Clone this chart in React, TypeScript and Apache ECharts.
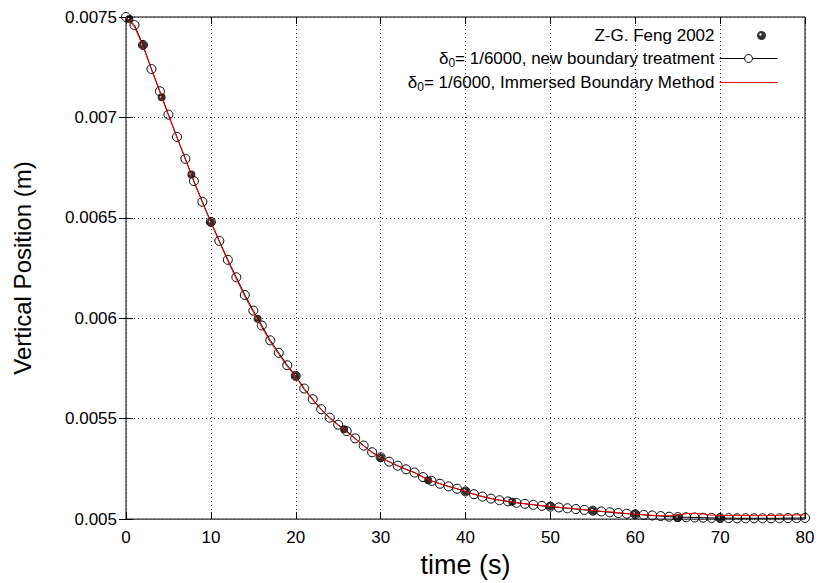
import React, { useEffect, useRef } from "react";
import * as echarts from "echarts";

const timeSteps: number[] = Array.from({ length: 81 }, (_, i) => i);

const newBoundary: number[] = [
  0.0075, 0.00746, 0.007361, 0.007241, 0.00713, 0.007014, 0.006903, 0.006794, 0.006683, 0.00658,
  0.00648, 0.006385, 0.006291, 0.006204, 0.006116, 0.006038, 0.005964, 0.00589, 0.005828, 0.005766,
  0.005713, 0.00565, 0.005597, 0.005547, 0.005505, 0.00547, 0.005438, 0.005402, 0.005366, 0.005333,
  0.005308, 0.005286, 0.005266, 0.005248, 0.005232, 0.005209, 0.00519, 0.005176, 0.005163, 0.005151,
  0.005138, 0.005124, 0.005112, 0.005102, 0.005094, 0.005088, 0.005081, 0.005076, 0.005071, 0.005066,
  0.005062, 0.005058, 0.005054, 0.00505, 0.005046, 0.005042, 0.005038, 0.005034, 0.00503, 0.005027,
  0.005024, 0.005021, 0.005018, 0.005015, 0.005012, 0.00501, 0.005009, 0.005008, 0.005007, 0.005006,
  0.005005, 0.005005, 0.005004, 0.005004, 0.005004, 0.005004, 0.005004, 0.005004, 0.005005, 0.005005,
  0.005006,
];

const immersedBoundary: number[] = [
  0.0075, 0.00745, 0.007355, 0.007238, 0.007125, 0.00701, 0.0069, 0.00679, 0.00668, 0.006576,
  0.006476, 0.00638, 0.006285, 0.006196, 0.006108, 0.00603, 0.005955, 0.005882, 0.00582, 0.00576,
  0.005708, 0.005645, 0.005593, 0.005544, 0.005502, 0.005467, 0.005435, 0.0054, 0.005364, 0.005331,
  0.005306, 0.005285, 0.005265, 0.005247, 0.005231, 0.005209, 0.00519, 0.005176, 0.005163, 0.005151,
  0.005137, 0.005124, 0.005112, 0.005103, 0.005095, 0.005089, 0.005082, 0.005077, 0.005072, 0.005067,
  0.005063, 0.005059, 0.005055, 0.005051, 0.005047, 0.005043, 0.005039, 0.005036, 0.005032, 0.005028,
  0.005025, 0.005022, 0.005019, 0.005017, 0.005017, 0.005021, 0.005027, 0.005029, 0.005025, 0.00502,
  0.005018, 0.005018, 0.005019, 0.005018, 0.005017, 0.005017, 0.005018, 0.005019, 0.00502, 0.005021,
  0.005021,
];

const fengTimes: number[] = [0.4, 2, 4.2, 7.7, 10, 15.5, 20, 25.7, 30, 35.6, 40, 45.5, 50, 55, 60, 65, 70];
const fengValues: number[] = [
  0.00749, 0.00736, 0.0071, 0.006716, 0.006478, 0.005997, 0.005713, 0.005447, 0.005306, 0.005194,
  0.005139, 0.005087, 0.005064, 0.005041, 0.005025, 0.005006, 0.005004,
];

const xTicks = { min: 0, max: 80, interval: 10 };
const yTicks = { min: 0.005, max: 0.0075, interval: 0.0005 };

const FONT = "'Liberation Sans', Arial, Helvetica, sans-serif";
const FENG_SYMBOL =
  "path://M5,0A5,5 0 1 1 5,10A5,5 0 1 1 5,0ZM3.9,2.6A1.4,1.4 0 1 0 3.9,5.4A1.4,1.4 0 1 0 3.9,2.6Z";
// legend icon: same marker, shifted to the right inside a 58x10 box
const FENG_LEGEND_ICON =
  "path://M0,0L0.01,0L0.01,0.01ZM58,10L57.99,10L57.99,9.99ZM42,0.5A4.5,4.5 0 1 1 42,9.5A4.5,4.5 0 1 1 42,0.5ZM41,2.7A1.2,1.2 0 1 0 41,5.1A1.2,1.2 0 1 0 41,2.7Z";

export default function App() {
  const ref = useRef<HTMLDivElement>(null);

  useEffect(() => {
    if (!ref.current) return;
    const chart = echarts.init(ref.current, null, { renderer: "svg" });

    const tickStyle = { inside: true, length: 7, lineStyle: { color: "#000", width: 1 } };
    const gridLine = { show: true, lineStyle: { color: "#333", width: 1, type: [1, 3] as any } };

    chart.setOption({
      animation: false,
      backgroundColor: "#fff",
      textStyle: { fontFamily: FONT },
      grid: {
        left: 126,
        right: 13,
        top: 17,
        bottom: 62,
        show: true,
        borderColor: "#000",
        borderWidth: 1,
        backgroundColor: "transparent",
      },
      legend: {
        orient: "vertical",
        right: 35,
        top: 21,
        align: "right",
        itemWidth: 58,
        itemHeight: 10,
        itemGap: 4,
        selectedMode: false,
        textStyle: {
          fontFamily: FONT,
          fontSize: 17,
          color: "#000",
          lineHeight: 19,
          rich: {
            d: { fontFamily: FONT, fontSize: 17, color: "#000" },
            s: { fontFamily: FONT, fontSize: 12, color: "#000", padding: [9, 0, 0, 0] },
            t: { fontFamily: FONT, fontSize: 17, color: "#000" },
          },
        },
        data: [
          { name: "Z-G. Feng 2002", icon: FENG_LEGEND_ICON, itemStyle: { color: "#000" } },
          {
            name: "nbt",
            lineStyle: { width: 1 },
            itemStyle: { color: "#fff", borderColor: "#000", borderWidth: 1 },
          },
          { name: "ibm", lineStyle: { width: 1 }, itemStyle: { opacity: 0 } },
        ],
        formatter: (name: string) => {
          if (name === "nbt") return "{d|δ}{s|0}{t|= 1/6000, new boundary treatment}";
          if (name === "ibm") return "{d|δ}{s|0}{t|= 1/6000, Immersed Boundary Method}";
          return name;
        },
      },
      xAxis: [
        {
          type: "value",
          ...xTicks,
          position: "bottom",
          name: "time (s)",
          nameLocation: "middle",
          nameGap: 27,
          nameTextStyle: { fontFamily: FONT, fontSize: 27, color: "#000" },
          axisLine: { show: false },
          axisTick: tickStyle,
          axisLabel: { fontFamily: FONT, fontSize: 17, color: "#000", margin: 10 },
          splitLine: gridLine,
        },
        {
          type: "value",
          ...xTicks,
          position: "top",
          axisLine: { show: false },
          axisTick: tickStyle,
          axisLabel: { show: false },
          splitLine: { show: false },
        },
      ],
      yAxis: [
        {
          type: "value",
          ...yTicks,
          position: "left",
          name: "Vertical Position (m)",
          nameLocation: "middle",
          nameGap: 92,
          nameTextStyle: { fontFamily: FONT, fontSize: 24, color: "#000" },
          axisLine: { show: false },
          axisTick: tickStyle,
          axisLabel: {
            fontFamily: FONT,
            fontSize: 17,
            color: "#000",
            margin: 9,
            formatter: (v: number) => String(parseFloat(v.toPrecision(6))),
          },
          splitLine: gridLine,
        },
        {
          type: "value",
          ...yTicks,
          position: "right",
          axisLine: { show: false },
          axisTick: tickStyle,
          axisLabel: { show: false },
          splitLine: { show: false },
        },
      ],
      series: [
        {
          name: "Z-G. Feng 2002",
          type: "scatter",
          symbol: FENG_SYMBOL,
          symbolSize: 8,
          itemStyle: { color: "#000" },
          data: fengTimes.map((t, i) => [t, fengValues[i]]),
          z: 3,
        },
        {
          name: "nbt",
          type: "line",
          showSymbol: true,
          symbol: "circle",
          symbolSize: 9,
          lineStyle: { color: "#000", width: 1 },
          itemStyle: { color: "rgba(255,255,255,0)", borderColor: "#000", borderWidth: 1 },
          data: timeSteps.map((t, i) => [t, newBoundary[i]]),
          z: 2,
        },
        {
          name: "ibm",
          type: "line",
          showSymbol: false,
          symbol: "none",
          lineStyle: { color: "#ff0000", width: 1 },
          itemStyle: { color: "#ff0000" },
          data: timeSteps.map((t, i) => [t, immersedBoundary[i]]),
          z: 4,
        },
      ],
    });

    return () => chart.dispose();
  }, []);

  return (
    <div
      ref={ref}
      style={{ position: "fixed", left: 0, top: 0, width: 818, height: 583, background: "#fff" }}
    />
  );
}
